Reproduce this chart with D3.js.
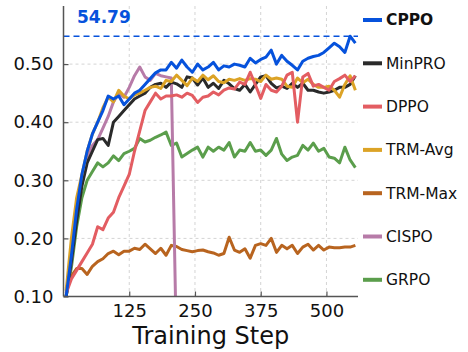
<!DOCTYPE html>
<html>
<head>
<meta charset="utf-8">
<script src="https://cdn.jsdelivr.net/npm/d3@7"></script>
<style>
  body { margin: 0; background: #fff; }
  svg { font-family: "DejaVu Sans", sans-serif; }
</style>
</head>
<body>
<svg id="chart" width="468" height="352"></svg>
<script>
// training steps (x values)
var steps = [5, 15, 25, 35, 45, 55, 65, 75, 85, 95, 105, 115, 125, 135, 145, 155, 165, 175, 185, 195,
  205, 215, 225, 235, 245, 255, 265, 275, 285, 295, 305, 315, 325, 335, 345, 355, 365, 375, 385, 395,
  405, 415, 425, 435, 445, 455, 465, 475, 485, 495, 505, 515, 525, 535, 545, 555];

var xTicks = [125, 250, 375, 500];
var yTicks = [0.10, 0.20, 0.30, 0.40, 0.50];
var bestScore = 0.5479;

var cppo = [0.10, 0.17, 0.25, 0.31, 0.35, 0.38, 0.40, 0.42, 0.445, 0.44, 0.445, 0.43, 0.44, 0.45, 0.455, 0.465, 0.475, 0.485, 0.49, 0.49,
  0.503, 0.493, 0.507, 0.495, 0.486, 0.50, 0.49, 0.495, 0.503, 0.49, 0.497, 0.495, 0.50, 0.498, 0.495, 0.51, 0.502, 0.508, 0.512, 0.524,
  0.50, 0.515, 0.505, 0.498, 0.49, 0.505, 0.51, 0.513, 0.515, 0.52, 0.528, 0.536, 0.53, 0.52, 0.548, 0.536];

var minpro = [0.10, 0.16, 0.23, 0.29, 0.33, 0.35, 0.37, 0.372, 0.36, 0.40, 0.41, 0.42, 0.43, 0.44, 0.445, 0.45, 0.46, 0.465, 0.467, 0.46,
  0.469, 0.466, 0.46, 0.478, 0.476, 0.464, 0.476, 0.46, 0.467, 0.458, 0.472, 0.466, 0.458, 0.455, 0.465, 0.452, 0.465, 0.478, 0.48, 0.467,
  0.459, 0.462, 0.458, 0.467, 0.46, 0.467, 0.455, 0.455, 0.452, 0.45, 0.452, 0.455, 0.46, 0.46, 0.465, 0.48];

var dppo = [0.105, 0.13, 0.145, 0.16, 0.175, 0.19, 0.22, 0.215, 0.235, 0.245, 0.27, 0.29, 0.31, 0.35, 0.385, 0.42, 0.435, 0.45, 0.44, 0.445,
  0.445, 0.447, 0.443, 0.45, 0.446, 0.434, 0.443, 0.445, 0.452, 0.447, 0.455, 0.459, 0.457, 0.469, 0.465, 0.486, 0.464, 0.441, 0.465, 0.455,
  0.452, 0.462, 0.481, 0.486, 0.40, 0.478, 0.484, 0.462, 0.465, 0.46, 0.455, 0.47, 0.475, 0.481, 0.47, 0.48];

var trmAvg = [0.11, 0.20, 0.27, 0.31, 0.35, 0.38, 0.40, 0.425, 0.443, 0.435, 0.455, 0.445, 0.44, 0.447, 0.45, 0.455, 0.46, 0.462, 0.458, 0.472,
  0.47, 0.481, 0.472, 0.463, 0.476, 0.47, 0.481, 0.473, 0.48, 0.47, 0.468, 0.474, 0.472, 0.475, 0.472, 0.475, 0.474, 0.47, 0.481, 0.474,
  0.476, 0.474, 0.462, 0.46, 0.476, 0.468, 0.474, 0.465, 0.46, 0.46, 0.462, 0.455, 0.443, 0.465, 0.48, 0.455];

var trmMax = [0.115, 0.135, 0.148, 0.148, 0.138, 0.152, 0.16, 0.165, 0.174, 0.178, 0.172, 0.178, 0.178, 0.183, 0.181, 0.19, 0.182, 0.174, 0.183, 0.171,
  0.188, 0.186, 0.181, 0.179, 0.177, 0.179, 0.18, 0.177, 0.175, 0.171, 0.174, 0.202, 0.18, 0.176, 0.182, 0.166, 0.188, 0.191, 0.188, 0.20,
  0.176, 0.188, 0.182, 0.188, 0.174, 0.185, 0.19, 0.18, 0.188, 0.18, 0.185, 0.184, 0.184, 0.185, 0.185, 0.188];

// CISPO collapses around step 210 and stops
var cispo = [0.10, 0.16, 0.24, 0.30, 0.34, 0.36, 0.37, 0.39, 0.41, 0.435, 0.45, 0.443, 0.46, 0.48, 0.495, 0.478, 0.472, 0.484, 0.48, 0.478,
  0.476, 0.0];

var grpo = [0.10, 0.15, 0.22, 0.27, 0.30, 0.315, 0.33, 0.323, 0.33, 0.342, 0.334, 0.346, 0.35, 0.355, 0.372, 0.366, 0.369, 0.374, 0.378, 0.383,
  0.36, 0.364, 0.34, 0.346, 0.352, 0.357, 0.34, 0.357, 0.35, 0.357, 0.352, 0.365, 0.34, 0.352, 0.35, 0.365, 0.35, 0.352, 0.343, 0.352,
  0.372, 0.345, 0.334, 0.34, 0.343, 0.36, 0.352, 0.364, 0.35, 0.355, 0.34, 0.338, 0.33, 0.357, 0.335, 0.322];

var names = ["CPPO", "MinPRO", "DPPO", "TRM-Avg", "TRM-Max", "CISPO", "GRPO"];
var colors = ["#0652dc", "#2a2a2a", "#e35d62", "#dca326", "#b8641f", "#b77ba8", "#5b9e4c"];
var values = [cppo, minpro, dppo, trmAvg, trmMax, cispo, grpo];

var plotL = 63.5, plotR = 358, plotT = 6, plotB = 296.5;

var svg = d3.select("#chart");

var x = d3.scaleLinear().domain([0, 560]).range([plotL, plotR]);
var y = d3.scaleLinear().domain([0.1, 0.6]).range([plotB, plotT]);

svg.append("clipPath").attr("id", "plot")
  .append("rect")
  .attr("x", plotL).attr("y", plotT)
  .attr("width", plotR - plotL).attr("height", plotB - plotT);

// grid
svg.append("g").selectAll("line")
  .data(xTicks)
  .enter().append("line")
  .attr("x1", function (d) { return x(d); })
  .attr("x2", function (d) { return x(d); })
  .attr("y1", plotT).attr("y2", plotB)
  .attr("stroke", "#d4d4d4").attr("stroke-width", 1)
  .attr("stroke-dasharray", "3,3");

svg.append("g").selectAll("line")
  .data(yTicks.slice(1))
  .enter().append("line")
  .attr("x1", plotL).attr("x2", plotR)
  .attr("y1", function (d) { return y(d); })
  .attr("y2", function (d) { return y(d); })
  .attr("stroke", "#d4d4d4").attr("stroke-width", 1)
  .attr("stroke-dasharray", "3,3");

// best score reference line
svg.append("line")
  .attr("x1", plotL).attr("x2", plotR)
  .attr("y1", y(bestScore)).attr("y2", y(bestScore))
  .attr("stroke", colors[0]).attr("stroke-width", 1.6)
  .attr("stroke-dasharray", "6,4");

svg.append("text")
  .attr("x", 77).attr("y", 23)
  .attr("font-size", 17).attr("font-weight", "bold")
  .attr("fill", colors[0])
  .text((bestScore * 100).toFixed(2));

// lines, drawn back to front
var line = d3.line()
  .x(function (d) { return x(d[0]); })
  .y(function (d) { return y(d[1]); });

var order = [6, 4, 5, 1, 3, 2, 0];
var lines = svg.append("g").attr("clip-path", "url(#plot)");
order.forEach(function (k) {
  var pts = values[k].map(function (v, i) { return [steps[i], v]; });
  lines.append("path")
    .datum(pts)
    .attr("d", line)
    .attr("fill", "none")
    .attr("stroke", colors[k])
    .attr("stroke-width", 3)
    .attr("stroke-linejoin", "round");
});

// axes (ticks point inward)
var xAxis = svg.append("g")
  .attr("transform", "translate(0," + plotB + ")")
  .call(d3.axisBottom(x).tickValues(xTicks).tickSize(-5).tickPadding(8));
var yAxis = svg.append("g")
  .attr("transform", "translate(" + plotL + ",0)")
  .call(d3.axisLeft(y).tickValues(yTicks).tickFormat(d3.format(".2f")).tickSize(-5).tickPadding(10));

[xAxis, yAxis].forEach(function (g) {
  g.select(".domain").attr("stroke", "#555").attr("stroke-width", 1.5);
  g.selectAll(".tick line").attr("stroke", "#555").attr("stroke-width", 1.2);
  g.selectAll(".tick text").attr("font-size", 18).attr("fill", "#111")
    .attr("font-family", "DejaVu Sans");
});
xAxis.select(".domain").attr("d", "M" + plotL + ",0H" + plotR);
yAxis.select(".domain").attr("d", "M0," + plotB + "V" + plotT);

svg.append("text")
  .attr("x", (plotL + plotR) / 2).attr("y", 344)
  .attr("text-anchor", "middle")
  .attr("font-size", 24).attr("fill", "#111")
  .text("Training Step");

// legend
var legend = svg.append("g").selectAll("g")
  .data(names)
  .enter().append("g")
  .attr("transform", function (d, i) { return "translate(363," + (20 + i * 43.3) + ")"; });

legend.append("line")
  .attr("x1", 0).attr("x2", 19)
  .attr("stroke", function (d, i) { return colors[i]; })
  .attr("stroke-width", 4);

legend.append("text")
  .attr("x", 23).attr("dy", "0.35em")
  .attr("font-size", 15.5).attr("fill", "#111")
  .attr("font-weight", function (d, i) { return i === 0 ? "bold" : "normal"; })
  .text(function (d) { return d; });
</script>
</body>
</html>
